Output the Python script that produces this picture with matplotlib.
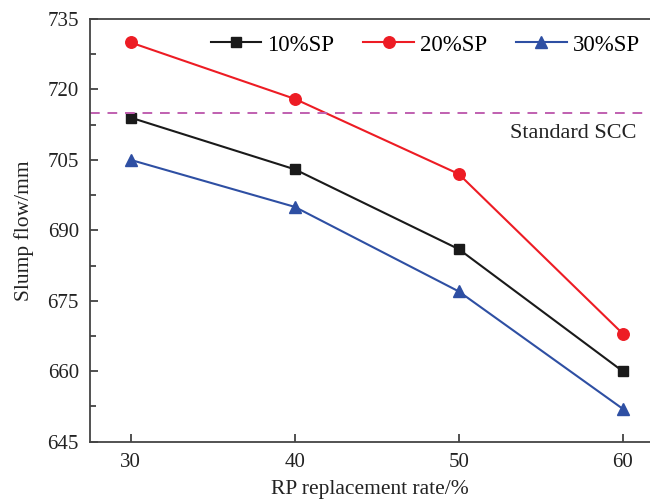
import matplotlib
matplotlib.use("Agg")
import matplotlib.pyplot as plt
from matplotlib.ticker import MultipleLocator

plt.rcParams['font.family'] = ['Liberation Serif', 'DejaVu Serif']
plt.rcParams['mathtext.fontset'] = 'stix'

x = [30, 40, 50, 60]
sp10 = [714, 703, 686, 660]
sp20 = [730, 718, 702, 668]
sp30 = [705, 695, 677, 652]
standard_scc = 715
labels = ['10%SP', '20%SP', '30%SP']

fig = plt.figure(figsize=(6.5, 4.99), dpi=100)
ax = fig.add_axes([90/650, 1-441.7/499, 1-90/650, (441.7-19)/499])

ax.plot(x, sp10, color='#1a1a1a', marker='s', markersize=7, lw=1.5, label=labels[0])
ax.plot(x, sp20, color='#ED1C24', marker='o', markersize=8.3, lw=1.5, label=labels[1])
ax.plot(x, sp30, color='#2E4FA3', marker='^', markersize=8.5, lw=1.5, label=labels[2])
ax.axhline(standard_scc, color='#C060B0', lw=1.4, ls=(0, (5, 4)))
ax.text(637/650, 1-134/499, 'Standard SCC', transform=fig.transFigure, fontsize=16,
        ha='right', va='center', color='#222222')

ax.set_xlim(27.52, 61.66)
ax.set_ylim(645, 735)
ax.set_xticks(x)
ax.yaxis.set_major_locator(MultipleLocator(15))
ax.yaxis.set_minor_locator(MultipleLocator(7.5))
ax.tick_params(direction='in', which='both', labelsize=15, colors='#222222', width=1.1)
ax.tick_params(which='major', length=6, pad=8)
ax.tick_params(which='minor', length=4)
ax.spines['right'].set_visible(False)
for s in ['left', 'bottom', 'top']:
    ax.spines[s].set_linewidth(1.3)
    ax.spines[s].set_color('#444444')

ax.set_xlabel('RP replacement rate/%', fontsize=15.5, color='#222222', labelpad=6)
ax.set_ylabel('Slump flow/mm', fontsize=15.5, color='#222222', labelpad=10)

ax.legend(loc='center left', bbox_to_anchor=(211/650, 1-45/499), bbox_transform=fig.transFigure,
          ncol=3, frameon=False, borderpad=0, borderaxespad=0,
          fontsize=16.5, handlelength=2.2, columnspacing=1.27, handletextpad=0.26)

fig.savefig('out.png', dpi=100)
